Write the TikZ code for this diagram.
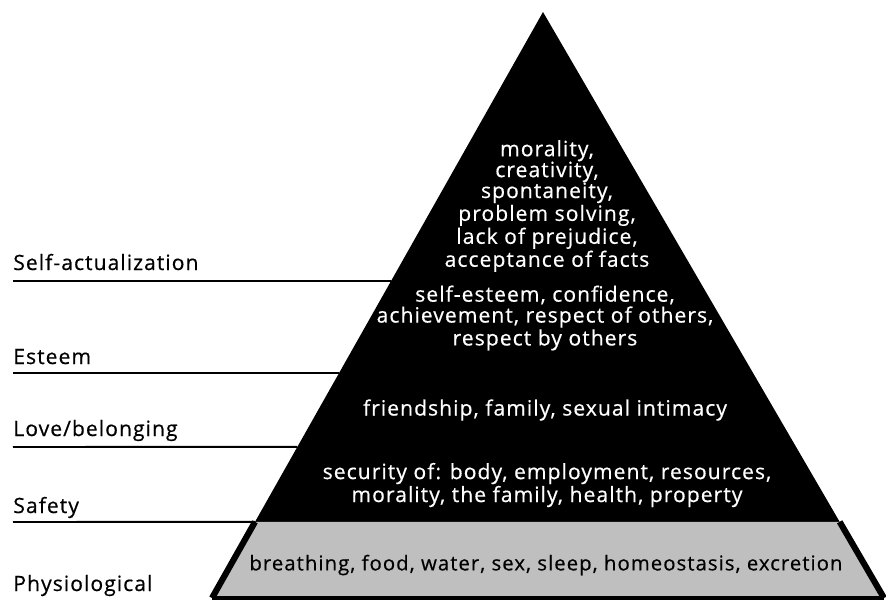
\documentclass[tikz,border=0pt]{standalone}
\usepackage{fontspec}
\setmainfont[LetterSpace=5,FakeBold=0.5]{Open Sans}
\usepackage{tikz}
\usetikzlibrary{calc}
\pgfdeclarelayer{bg}
\pgfsetlayers{bg,main}

\begin{document}
\begin{tikzpicture}[x=0.02cm,y=-0.02cm,
    level/.style={anchor=base west, inner sep=0pt, font=\fontsize{12}{12}\selectfont},
    need/.style={text=white, align=center, inner sep=0pt, font=\fontsize{12}{11.9}\selectfont},
    rule/.style={line width=1.1pt}]
    \useasboundingbox (0,0) rectangle (886,600);

    % pyramid corners
    \coordinate (top) at (543,12);
    \coordinate (bl) at (212,598);
    \coordinate (br) at (884,598);
    \coordinate (sl) at ($(top)!0.870!(bl)$);
    \coordinate (sr) at ($(top)!0.870!(br)$);
    \fill[black] (top) -- (sl) -- (sr) -- cycle;
    \fill[gray!50] (sl) -- (bl) -- (br) -- (sr) -- cycle;
    \draw[line width=3.5pt] (sl) -- (bl);
    \draw[line width=3.5pt] (sr) -- (br);
    \draw[line width=1.8pt] (bl) -- (br);

    \node [level] (self) at (13,270) {Self-actualization};
    \node [level] (esteem) at (13,364) {Esteem};
    \node [level] (love) at (13,436) {Love/belonging};
    \node [level] (safety) at (13,513) {Safety};
    \node [level] (physio) at (13,591) {Physiological};

    \node [need] (selfTxt) at (547,206) {morality,\\creativity,\\spontaneity,\\problem solving,\\lack of prejudice,\\acceptance of facts};
    \node [need] (esteemTxt) at (545,318) {self-esteem, confidence,\\achievement, respect of others,\\respect by others};
    \node [need] (loveTxt) at (545,410) {friendship, family, sexual intimacy};
    \node [need] (safetyTxt) at (547,485) {security of: body, employment, resources,\\morality, the family, health, property};
    \node [need, text=black, font=\fontsize{11.6}{11.9}\selectfont] (physioTxt) at (546,565) {breathing, food, water, sex, sleep, homeostasis, excretion};

    \begin{pgfonlayer}{bg}    % rules under the pyramid
        \coordinate (e1) at ($(top)!0.459!(bl)$);
        \coordinate (e2) at ($(top)!0.616!(bl)$);
        \coordinate (e3) at ($(top)!0.742!(bl)$);
        \draw [rule] (13,281) -- (e1);
        \draw [rule] (13,373) -- (e2);
        \draw [rule] (13,447) -- (e3);
        \draw [rule] (13,522) -- (sl);
    \end{pgfonlayer}
\end{tikzpicture}
\end{document}
